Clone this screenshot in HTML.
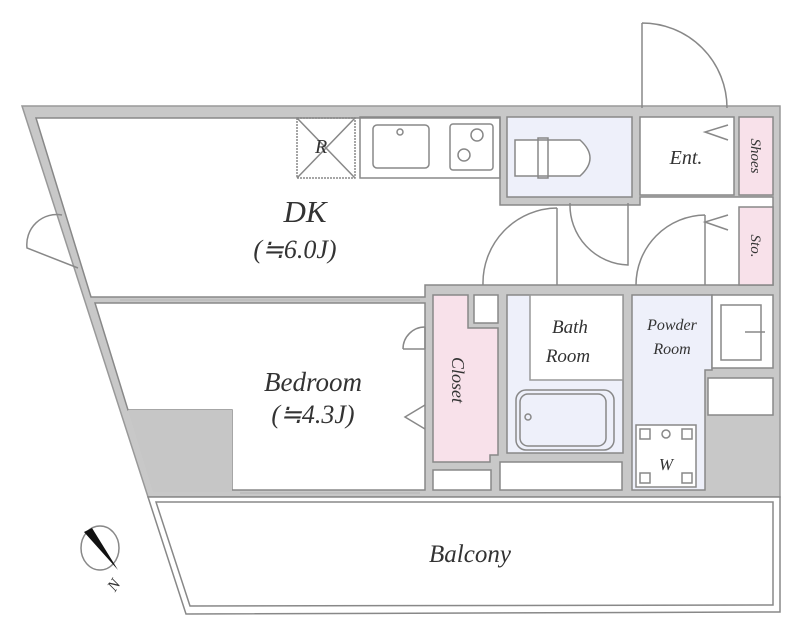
<!DOCTYPE html>
<html><head><meta charset="utf-8"><style>
html,body{margin:0;padding:0;background:#fff;width:800px;height:631px;overflow:hidden}
svg{display:block}
text{font-family:"Liberation Serif",serif;font-style:italic;fill:#333}
</style></head><body>
<svg width="800" height="631" viewBox="0 0 800 631" xmlns="http://www.w3.org/2000/svg">
<g stroke="#888" stroke-width="1.5" fill="none">
<path d="M22,106 L780,106 L780,497 L148,497 Z" fill="#c8c8c8" stroke="#999"/>
<path d="M36,118 L500,118 L500,205 L640,205 L640,197 L773,197 L773,285 L425,285 L425,297 L91,297 Z" fill="#fff"/>
<path d="M95,303 L425,303 L425,490 L232,490 L232,410 L128,410 Z" fill="#fff"/>
<rect x="507" y="117" width="125" height="80" fill="#eef0fa"/>
<rect x="640" y="117" width="94" height="78" fill="#fff"/>
<rect x="739" y="117" width="34" height="78" fill="#f8e1ea"/>
<rect x="739" y="207" width="34" height="78" fill="#f8e1ea"/>
<path d="M433,295 L468,295 L468,328 L498,328 L498,455 L490,455 L490,462 L433,462 Z" fill="#f8e1ea"/>
<rect x="474" y="295" width="24" height="28" fill="#fff"/>
<rect x="507" y="295" width="116" height="158" fill="#eef0fa"/>
<rect x="530" y="295" width="93" height="85" fill="#fff" stroke="#999"/>
<rect x="516" y="390" width="98" height="60" rx="10" fill="#eef0fa"/>
<rect x="520" y="394" width="86" height="52" rx="8"/>
<circle cx="528" cy="417" r="3"/>
<path d="M632,295 L712,295 L712,370 L705,370 L705,490 L632,490 Z" fill="#eef0fa"/>
<rect x="712" y="295" width="61" height="73" fill="#fff"/>
<rect x="721" y="305" width="40" height="55"/>
<line x1="745" y1="332" x2="765" y2="332"/>
<rect x="708" y="378" width="65" height="37" fill="#fff"/>
<rect x="636" y="425" width="60" height="62" fill="#fff"/>
<rect x="640" y="429" width="10" height="10"/><rect x="682" y="429" width="10" height="10"/>
<rect x="640" y="473" width="10" height="10"/><rect x="682" y="473" width="10" height="10"/>
<circle cx="666" cy="434" r="4"/>
<rect x="433" y="470" width="58" height="20" fill="#fff"/>
<rect x="500" y="462" width="122" height="28" fill="#fff"/>
<rect x="297" y="118" width="58" height="60" stroke-dasharray="2,1"/>
<line x1="297" y1="118" x2="355" y2="178"/><line x1="355" y1="118" x2="297" y2="178"/>
<rect x="360" y="117" width="140" height="61"/>
<rect x="373" y="125" width="56" height="43" rx="4"/>
<circle cx="400" cy="132" r="3"/>
<rect x="450" y="124" width="43" height="46" rx="3"/>
<circle cx="477" cy="135" r="6"/><circle cx="464" cy="155" r="6"/>
<path d="M515,140 L580,140 Q600,158 580,176 L515,176 Z" fill="#fff"/>
<rect x="538" y="138" width="10" height="40"/>
<path d="M642,23 L642,108 M642,23 A85,85 0 0 1 727,108"/>
<path d="M557,208 L557,285 M557,208 A75,75 0 0 0 483,285"/>
<path d="M570,203 A60,60 0 0 0 628,265 L628,203"/>
<path d="M705,215 L705,285 M705,215 A70,70 0 0 0 636,285"/>
<path d="M728,125 L705,132 L728,140 M728,215 L705,222 L728,230"/>
<path d="M425,327 A22,22 0 0 0 403,349 M425,327 L425,349 M403,349 L425,349"/>
<path d="M425,405 L405,417 L425,429"/>
<path d="M62,215 A30,30 0 0 0 27,248 L78,268"/>
<line x1="120" y1="300" x2="420" y2="300" stroke="#bbb"/>
<line x1="240" y1="493" x2="420" y2="493" stroke="#bbb"/>
<path d="M148,497 L780,497 L780,612 L186,614 Z" fill="#fff"/>
<path d="M156,502 L773,502 L773,605 L190,606 Z"/>
<ellipse cx="100" cy="548" rx="19" ry="22"/>
</g>
<path d="M84,532 L92,528 L118,570 Z" fill="#111"/>
<polygon points="128,410 232,410 232,492 153,492" fill="#c6c6c6"/>
<text x="305" y="222" font-size="31" text-anchor="middle" fill="#222">DK</text>
<text x="295" y="258" font-size="26" text-anchor="middle">(≒6.0J)</text>
<text x="313" y="391" font-size="27" text-anchor="middle" fill="#222">Bedroom</text>
<text x="313" y="423" font-size="26" text-anchor="middle">(≒4.3J)</text>
<text x="315" y="153" font-size="20">R</text>
<text x="686" y="164" font-size="20" text-anchor="middle">Ent.</text>
<text x="570" y="333" font-size="19" text-anchor="middle">Bath</text>
<text x="568" y="362" font-size="19" text-anchor="middle">Room</text>
<text x="672" y="330" font-size="16" text-anchor="middle">Powder</text>
<text x="672" y="354" font-size="16" text-anchor="middle">Room</text>
<text x="666" y="470" font-size="17" text-anchor="middle">W</text>
<text x="470" y="562" font-size="25" text-anchor="middle">Balcony</text>
<text transform="translate(452,380) rotate(90)" font-size="18" text-anchor="middle">Closet</text>
<text transform="translate(751,156) rotate(90)" font-size="15" text-anchor="middle">Shoes</text>
<text transform="translate(751,246) rotate(90)" font-size="15" text-anchor="middle">Sto.</text>
<text transform="translate(118,588) rotate(-55)" font-size="16" text-anchor="middle">N</text>
</svg>
</body></html>
